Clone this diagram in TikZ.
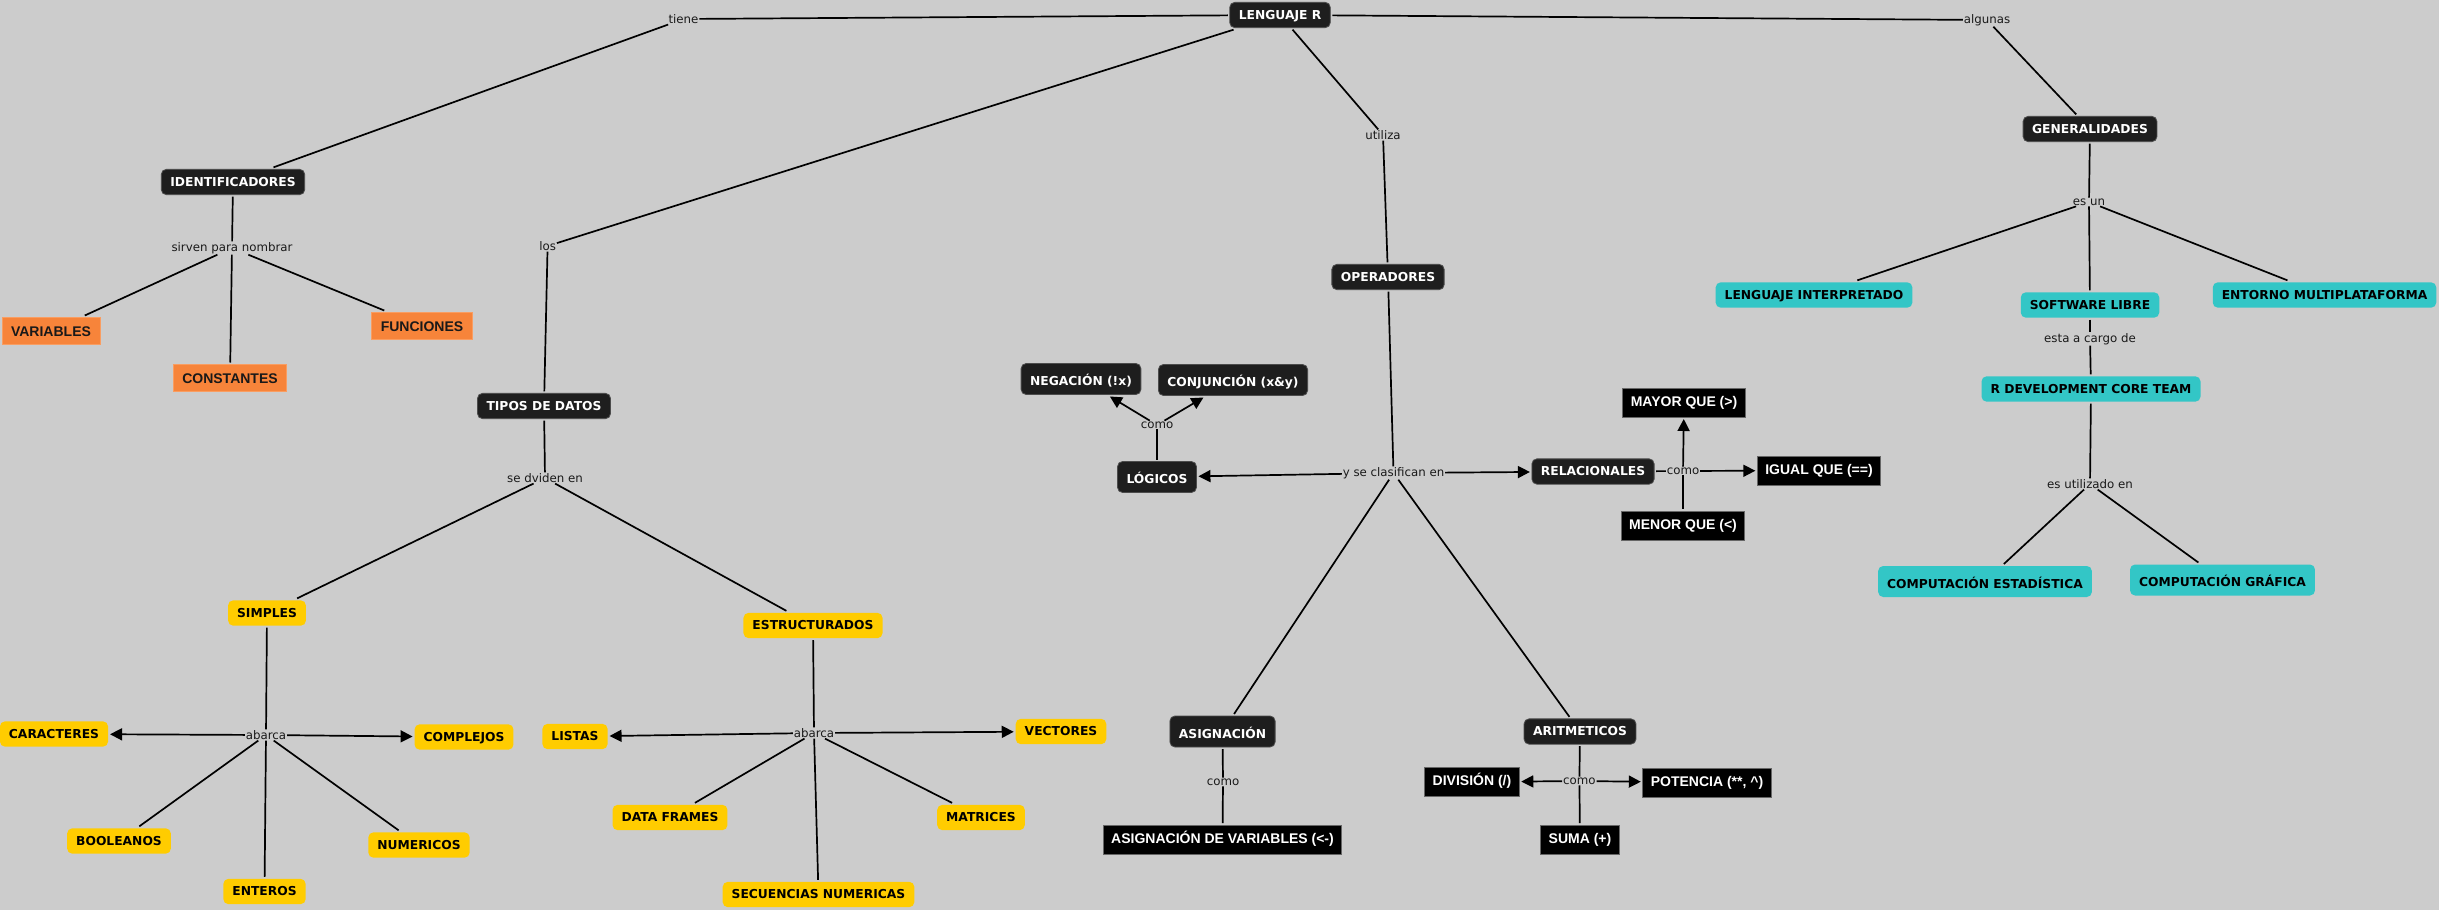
\documentclass[tikz,border=0pt]{standalone}
\usepackage{fontspec}
\usetikzlibrary{arrows.meta}
\newfontfamily\vfont{DejaVu Sans}
\newfontfamily\afont{Liberation Sans}
\definecolor{bgc}{HTML}{CCCCCC}
\definecolor{darkc}{HTML}{1E1E1E}
\definecolor{yelc}{HTML}{FFCC00}
\definecolor{tealc}{HTML}{33C6C6}
\definecolor{orac}{HTML}{F7843A}
\definecolor{linkc}{HTML}{1A1A1A}
\tikzset{
 cbase/.style={outer sep=2pt, align=center, inner xsep=9pt},
 vbold/.style={font=\vfont\bfseries\fontsize{12.3}{14}\selectfont, text height=9pt, text depth=0.3pt, inner ysep=8pt},
 darkbox/.style={cbase, vbold, fill=darkc, draw=black!70, line width=0.8pt, rounded corners=5pt, text=white},
 yelbox/.style={cbase, vbold, fill=yelc, rounded corners=5pt, text=black},
 tealbox/.style={cbase, vbold, fill=tealc, rounded corners=5pt, text=black},
 accent/.style={text height=14pt, text depth=1pt},
 blackbox/.style={cbase, font=\afont\bfseries\fontsize{14}{16}\selectfont, fill=black, draw=black!60, line width=0.8pt, text=white, inner xsep=8pt, inner ysep=8pt, text height=10pt, text depth=3pt},
 orabox/.style={cbase, font=\afont\bfseries\fontsize{14}{16}\selectfont, fill=orac, draw=orac!80!white, line width=0.8pt, text=black!90, inner xsep=9pt, inner ysep=8.5pt, text height=10pt, text depth=0pt},
 link/.style={font=\vfont\fontsize{11.8}{14}\selectfont, text=linkc, fill=bgc, inner sep=1pt, outer sep=0pt},
 conn/.style={line width=1.7pt, draw=black},
 arr/.style={conn, -{Triangle[length=12pt,width=12pt]}},
}
\begin{document}
\begin{tikzpicture}[x=1pt,y=-1pt]
\fill[bgc] (0,0) rectangle (2439,910);
\useasboundingbox (0,0) rectangle (2439,910);
% dark concepts
\node[darkbox] (lr) at (1280,15) {LENGUAJE R};
\node[darkbox] (ident) at (233,182) {IDENTIFICADORES};
\node[darkbox] (tipos) at (544,406) {TIPOS DE DATOS};
\node[darkbox] (oper) at (1388,277) {OPERADORES};
\node[darkbox] (gen) at (2090,129) {GENERALIDADES};
\node[darkbox,accent] (neg) at (1081,379) {NEGACIÓN (!x)};
\node[darkbox,accent] (conj) at (1233,380) {CONJUNCIÓN (x\&y)};
\node[darkbox,accent] (log) at (1157,477) {LÓGICOS};
\node[darkbox] (rel) at (1593,471.5) {RELACIONALES};
\node[darkbox,accent] (asig) at (1222.5,731.5) {ASIGNACIÓN};
\node[darkbox] (arit) at (1580,731.5) {ARITMETICOS};
% black boxes
\node[blackbox] (mayor) at (1684,402.5) {MAYOR QUE (>)};
\node[blackbox] (igual) at (1819,470.5) {IGUAL QUE (==)};
\node[blackbox] (menor) at (1683,525.5) {MENOR QUE (<)};
\node[blackbox] (asigvar) at (1222.5,839.5) {ASIGNACIÓN DE VARIABLES (<-)};
\node[blackbox] (div) at (1472,782) {DIVISIÓN (/)};
\node[blackbox] (pot) at (1707,782.5) {POTENCIA (**, \textasciicircum)};
\node[blackbox] (suma) at (1580,839.5) {SUMA (+)};
% orange
\node[orabox] (var) at (51,331) {VARIABLES};
\node[orabox] (const) at (230,378) {CONSTANTES};
\node[orabox] (func) at (422,326) {FUNCIONES};
% yellow
\node[yelbox] (simp) at (267,613) {SIMPLES};
\node[yelbox] (estr) at (813,625.5) {ESTRUCTURADOS};
\node[yelbox] (car) at (54,734) {CARACTERES};
\node[yelbox] (comp) at (464,737) {COMPLEJOS};
\node[yelbox] (bool) at (119,841) {BOOLEANOS};
\node[yelbox] (ent) at (264.5,891.5) {ENTEROS};
\node[yelbox] (num) at (419,845) {NUMERICOS};
\node[yelbox] (list) at (575,736.5) {LISTAS};
\node[yelbox] (df) at (670,817.5) {DATA FRAMES};
\node[yelbox] (sec) at (818.5,894.5) {SECUENCIAS NUMERICAS};
\node[yelbox] (mat) at (981,817.5) {MATRICES};
\node[yelbox] (vec) at (1061,731.5) {VECTORES};
% teal
\node[tealbox] (li) at (1814,295) {LENGUAJE INTERPRETADO};
\node[tealbox] (sl) at (2090,305) {SOFTWARE LIBRE};
\node[tealbox] (em) at (2324.5,295) {ENTORNO MULTIPLATAFORMA};
\node[tealbox] (rdev) at (2091,389) {R DEVELOPMENT CORE TEAM};
\node[tealbox,accent] (cest) at (1985,581.5) {COMPUTACIÓN ESTADÍSTICA};
\node[tealbox,accent] (cgraf) at (2222.5,580) {COMPUTACIÓN GRÁFICA};
% linking phrases
\node[link] (ltiene) at (683.5,19) {tiene};
\node[link] (lalg) at (1987,20) {algunas};
\node[link] (lutil) at (1383,135) {utiliza};
\node[link] (llos) at (547.6,246) {los};
\node[link] (lsirv) at (232,248) {sirven para nombrar};
\node[link] (lesun) at (2089,202) {es un};
\node[link] (lcargo) at (2090,339) {esta a cargo de};
\node[link] (ldiv) at (545,478) {se dviden en};
\node[link] (lcomoa) at (1157,425) {como};
\node[link] (lclas) at (1393.5,473) {y se clasifican en};
\node[link] (lcomob) at (1683,471) {como};
\node[link] (lutilb) at (2090,484) {es utilizado en};
\node[link] (laba) at (266,735) {abarca};
\node[link] (labb) at (814,733) {abarca};
\node[link] (lcomoc) at (1223,782) {como};
\node[link] (lcomod) at (1579.4,781) {como};
% connectors
\draw[conn] (lr) -- (ltiene);
\draw[conn] (ltiene) -- (ident);
\draw[conn] (lr) -- (llos);
\draw[conn] (llos) -- (tipos);
\draw[conn] (lr) -- (lutil);
\draw[conn] (lutil) -- (oper);
\draw[conn] (lr) -- (lalg);
\draw[conn] (lalg) -- (gen);
\draw[conn] (ident) -- (lsirv);
\draw[conn] (lsirv) -- (var);
\draw[conn] (lsirv) -- (const);
\draw[conn] (lsirv) -- (func);
\draw[conn] (tipos) -- (ldiv);
\draw[conn] (ldiv) -- (simp);
\draw[conn] (ldiv) -- (estr);
\draw[conn] (simp) -- (laba);
\draw[arr] (laba) -- (car);
\draw[arr] (laba) -- (comp);
\draw[conn] (laba) -- (bool);
\draw[conn] (laba) -- (ent);
\draw[conn] (laba) -- (num);
\draw[conn] (estr) -- (labb);
\draw[arr] (labb) -- (list);
\draw[arr] (labb) -- (vec);
\draw[conn] (labb) -- (df);
\draw[conn] (labb) -- (sec);
\draw[conn] (labb) -- (mat);
\draw[conn] (oper) -- (lclas);
\draw[arr] (lclas) -- (log);
\draw[arr] (lclas) -- (rel);
\draw[conn] (lclas) -- (asig);
\draw[conn] (lclas) -- (arit);
\draw[conn] (log) -- (lcomoa);
\draw[arr] (lcomoa) -- (neg);
\draw[arr] (lcomoa) -- (conj);
\draw[conn] (rel) -- (lcomob);
\draw[arr] (lcomob) -- (mayor);
\draw[arr] (lcomob) -- (igual);
\draw[conn] (lcomob) -- (menor);
\draw[conn] (asig) -- (lcomoc);
\draw[conn] (lcomoc) -- (asigvar);
\draw[conn] (arit) -- (lcomod);
\draw[arr] (lcomod) -- (div);
\draw[arr] (lcomod) -- (pot);
\draw[conn] (lcomod) -- (suma);
\draw[conn] (gen) -- (lesun);
\draw[conn] (lesun) -- (li);
\draw[conn] (lesun) -- (sl);
\draw[conn] (lesun) -- (em);
\draw[conn] (sl) -- (lcargo);
\draw[conn] (lcargo) -- (rdev);
\draw[conn] (rdev) -- (lutilb);
\draw[conn] (lutilb) -- (cest);
\draw[conn] (lutilb) -- (cgraf);
\end{tikzpicture}
\end{document}
